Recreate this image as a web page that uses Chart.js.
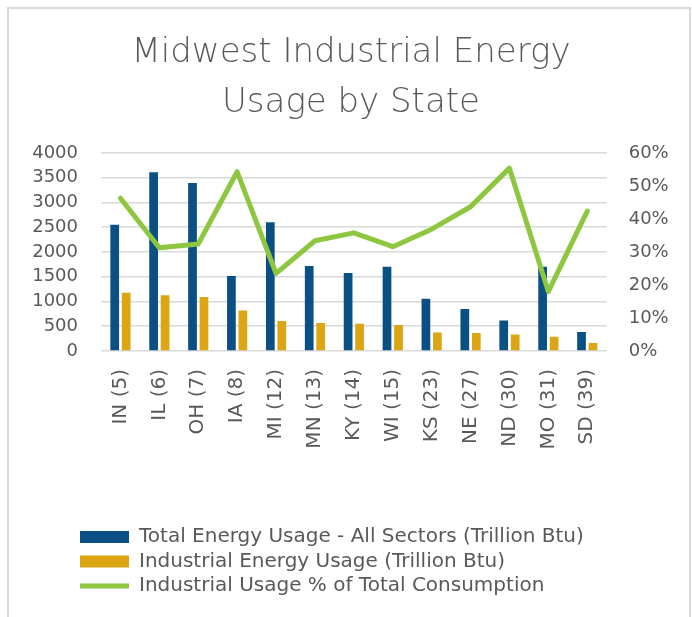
<!DOCTYPE html>
<html>
<head>
<meta charset="utf-8">
<script src="https://cdn.jsdelivr.net/npm/chart.js@4"></script>
<style>
  body { margin: 0; background: #fff; }
  #frame {
    position: absolute; left: 7px; top: 7px;
    width: 680px; height: 700px;
    border: 2px solid #d9d9d9;
  }
  #chart { position: absolute; left: 0; top: 0; }
</style>
</head>
<body>
<div id="frame"></div>
<canvas id="chart" width="692" height="617"></canvas>
<script>
// Categories (state and rank)
const states = ['IN (5)', 'IL (6)', 'OH (7)', 'IA (8)', 'MI (12)', 'MN (13)', 'KY (14)',
                'WI (15)', 'KS (23)', 'NE (27)', 'ND (30)', 'MO (31)', 'SD (39)'];

// Trillion Btu
const totalUsage = [2550, 3610, 3395, 1515, 2600, 1715, 1575, 1700, 1055, 850, 615, 1700, 385];
const industrialUsage = [1175, 1125, 1090, 820, 605, 565, 550, 525, 375, 365, 335, 290, 160];

// Industrial share of total, percent
const industrialPct = [46.3, 31.3, 32.4, 54.3, 23.5, 33.4, 35.8, 31.6, 36.9, 43.7, 55.4, 18.0, 42.4];

const textColor = '#595959';

Chart.defaults.font.family = '"DejaVu Sans", sans-serif';
Chart.defaults.color = textColor;

// move the legend so it lines up under the plot like the original
const legendShift = {
    id: 'legendShift',
    afterLayout(chart) {
        chart.legend.left += 45.5;
    }
};

new Chart(document.getElementById('chart'), {
    type: 'bar',
    data: {
        labels: states,
        datasets: [
            {
                label: 'Total Energy Usage - All Sectors (Trillion Btu)',
                data: totalUsage,
                backgroundColor: '#0b5085',
                pointStyle: 'rect',
                yAxisID: 'y',
                order: 1,
                barPercentage: 0.76,
                categoryPercentage: 0.59
            },
            {
                label: 'Industrial Energy Usage (Trillion Btu)',
                data: industrialUsage,
                backgroundColor: '#dba514',
                pointStyle: 'rect',
                yAxisID: 'y',
                order: 2,
                barPercentage: 0.76,
                categoryPercentage: 0.59
            },
            {
                type: 'line',
                label: 'Industrial Usage % of Total Consumption',
                data: industrialPct,
                borderColor: '#8dc63f',
                backgroundColor: '#8dc63f',
                borderWidth: 5,
                borderCapStyle: 'round',
                borderJoinStyle: 'round',
                pointRadius: 0,
                pointStyle: 'line',
                tension: 0,
                yAxisID: 'y1',
                order: 0
            }
        ]
    },
    options: {
        responsive: false,
        animation: false,
        devicePixelRatio: 1,
        layout: {
            padding: { left: 30, right: 20, top: 0, bottom: 11 }
        },
        scales: {
            x: {
                grid: { display: false },
                border: { display: false },
                ticks: {
                    font: { size: 20 },
                    color: textColor,
                    minRotation: 90,
                    maxRotation: 90,
                    padding: 10
                },
                afterFit: (scale) => { scale.height = 171.5; }
            },
            y: {
                position: 'left',
                min: 0,
                max: 4000,
                grid: { color: '#d9d9d9', lineWidth: 1.5, drawTicks: false },
                border: { display: false },
                ticks: {
                    stepSize: 500,
                    font: { size: 18 },
                    color: textColor,
                    padding: 23,
                    callback: (v) => String(v)
                },
                afterFit: (scale) => { scale.width = 71; }
            },
            y1: {
                position: 'right',
                min: 0,
                max: 60,
                grid: { display: false, drawTicks: false },
                border: { display: false },
                ticks: {
                    stepSize: 10,
                    font: { size: 18 },
                    color: textColor,
                    padding: 22,
                    callback: (v) => v + '%'
                },
                afterFit: (scale) => { scale.width = 65.3; }
            }
        },
        plugins: {
            title: {
                display: true,
                text: ['Midwest Industrial Energy', 'Usage by State'],
                color: textColor,
                font: { size: 34, weight: 200, lineHeight: 1.47 },
                padding: { top: 28, bottom: 25 }
            },
            legend: {
                position: 'bottom',
                align: 'start',
                labels: {
                    usePointStyle: true,
                    pointStyleWidth: 49,
                    boxHeight: 12,
                    padding: 4.5,
                    color: textColor,
                    font: { size: 20 },
                    sort: (a, b) => a.datasetIndex - b.datasetIndex
                }
            },
            tooltip: { enabled: false }
        }
    },
    plugins: [legendShift]
});
</script>
</body>
</html>
